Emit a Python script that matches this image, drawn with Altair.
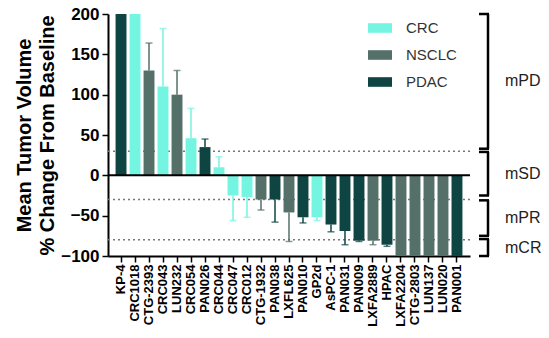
import altair as alt
import pandas as pd

models = ["KP-4", "CRC1018", "CTG-2393", "CRC043", "LUN232", "CRC054", "PAN026",
          "CRC044", "CRC047", "CRC012", "CTG-1932", "PAN038", "LXFL625", "PAN010",
          "GP2d", "AsPC-1", "PAN031", "PAN009", "LXFA2889", "HPAC", "LXFA2204",
          "CTG-2803", "LUN137", "LUN020", "PAN001"]
types = ["PDAC", "CRC", "NSCLC", "CRC", "NSCLC", "CRC", "PDAC",
         "CRC", "CRC", "CRC", "NSCLC", "PDAC", "NSCLC", "PDAC",
         "CRC", "PDAC", "PDAC", "PDAC", "NSCLC", "PDAC", "NSCLC",
         "NSCLC", "NSCLC", "NSCLC", "PDAC"]
values = [200, 200, 130, 110, 100, 46, 35,
          10, -25, -27, -30, -30, -46, -52,
          -52, -61, -69, -81, -81, -86, -100,
          -100, -100, -100, -100]
err_end = [None, None, 164, 182, 130, 83, 45,
           23, -56, -52, -43, -58, -82, -59,
           -56, -70, -86, -82, -86, -88, None,
           None, None, None, None]

thresholds = [30, -30, -80]

bracket_labels = ["mPD", "mSD", "mPR", "mCR"]
bracket_start = [200, 29, -31, -79]
bracket_end = [33, -25, -75, -100]

type_order = ["CRC", "NSCLC", "PDAC"]
type_colors = ["#74F5E2", "#557069", "#0E4543"]

FONT = "Liberation Sans"

df = pd.DataFrame({"model": models, "type": types, "value": values, "err": err_end})
df_err = df.dropna(subset=["err"])
df_thr = pd.DataFrame({"t": thresholds})
df_br = pd.DataFrame({"label": bracket_labels, "start": bracket_start, "end": bracket_end})
df_br["mid"] = (df_br["start"] + df_br["end"]) / 2
df_ends = pd.DataFrame({"yv": bracket_start + bracket_end})

x_enc = alt.X("model:N", sort=models,
              scale=alt.Scale(paddingInner=0.22, paddingOuter=0.54),
              axis=alt.Axis(title=None, labelAngle=-90, labelFont=FONT, labelFontWeight="bold",
                            labelFontSize=13, labelColor="black", labelPadding=2,
                            tickColor="black", tickWidth=1.5, tickSize=6,
                            domainColor="black", domainWidth=2))
y_scale = alt.Scale(domain=[-100, 200], nice=False, clamp=True)
y_enc = alt.Y("value:Q", scale=y_scale,
              axis=alt.Axis(title=["Mean Tumor Volume", "% Change From Baseline"],
                            values=[-100, -50, 0, 50, 100, 150, 200], grid=False,
                            labelFont=FONT, labelFontWeight="bold", labelFontSize=17,
                            labelColor="black", labelPadding=3,
                            tickColor="black", tickWidth=1.5, tickSize=6,
                            domainColor="black", domainWidth=2,
                            titleFont=FONT, titleFontWeight="bold", titleFontSize=20,
                            titleColor="black", titlePadding=3, titleLineHeight=23))
color_scale = alt.Scale(domain=type_order, range=type_colors)

thr = alt.Chart(df_thr).mark_rule(strokeDash=[2, 3], color="#777777", strokeWidth=1.5).encode(
    y=alt.Y("t:Q", scale=y_scale))

bars = alt.Chart(df).mark_bar().encode(
    x=x_enc, y=y_enc,
    color=alt.Color("type:N", scale=color_scale,
                    legend=alt.Legend(title=None, orient="none", legendX=260, legendY=2,
                                      symbolType="M-1,-0.4H1V0.4H-1Z", symbolSize=576,
                                      symbolStrokeWidth=0, labelFont=FONT, labelFontSize=15,
                                      labelColor="#333333", labelOffset=14, rowPadding=7,
                                      padding=0)))

err_rule = alt.Chart(df_err).mark_rule(strokeWidth=1.5).encode(
    x=alt.X("model:N", sort=models),
    y=alt.Y("value:Q", scale=y_scale), y2="err:Q",
    color=alt.Color("type:N", scale=color_scale, legend=None))

err_cap = alt.Chart(df_err).mark_tick(orient="horizontal", size=7, thickness=1.5).encode(
    x=alt.X("model:N", sort=models),
    y=alt.Y("err:Q", scale=y_scale),
    color=alt.Color("type:N", scale=color_scale, legend=None))

zero = alt.Chart(pd.DataFrame({"z": [0]})).mark_rule(color="black", strokeWidth=2).encode(
    y=alt.Y("z:Q", scale=y_scale))

br_v = alt.Chart(df_br).mark_rule(color="black", strokeWidth=2.5).encode(
    x=alt.value(380), y=alt.Y("start:Q", scale=y_scale), y2="end:Q")
br_h = alt.Chart(df_ends).mark_rule(color="black", strokeWidth=2.5).encode(
    x=alt.value(371), x2=alt.value(381), y=alt.Y("yv:Q", scale=y_scale))
br_t = alt.Chart(df_br).mark_text(align="left", baseline="middle", font=FONT, fontSize=16,
                                   color="#222222").encode(
    x=alt.value(397), y=alt.Y("mid:Q", scale=y_scale), text="label:N")

chart = alt.layer(thr, bars, err_rule, err_cap, zero, br_v, br_h, br_t).properties(
    width=362, height=242,
    autosize=alt.AutoSizeParams(type="none"),
    padding={"left": 108, "top": 14, "right": 79, "bottom": 82},
).configure_view(stroke=None)

chart.save("out.html", embed_options={"renderer": "svg", "actions": False})
